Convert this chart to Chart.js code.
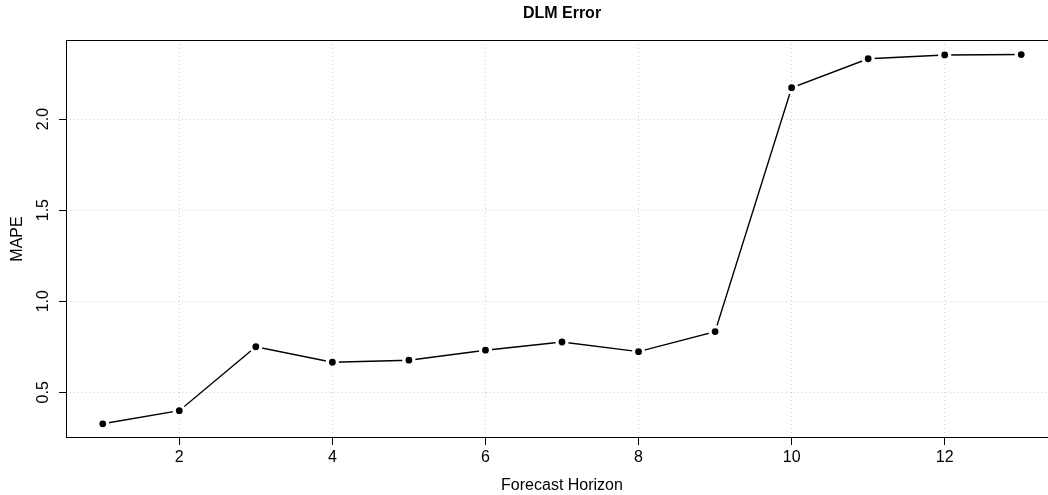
<!DOCTYPE html>
<html>
<head>
<meta charset="utf-8">
<script src="https://cdn.jsdelivr.net/npm/chart.js@4/dist/chart.umd.min.js"></script>
<style>
  html, body { margin: 0; padding: 0; background: #ffffff; overflow: hidden; width: 1048px; height: 495px; }
  canvas { display: block; }
</style>
</head>
<body>
<canvas id="c" width="1100" height="495"></canvas>
<script>
// ---- data ----
const horizon = [1, 2, 3, 4, 5, 6, 7, 8, 9, 10, 11, 12, 13];
const mape = [0.327, 0.399, 0.750, 0.665, 0.676, 0.731, 0.776, 0.723, 0.833, 2.172, 2.331, 2.352, 2.354];
const xTickValues = [2, 4, 6, 8, 10, 12];
const yTickValues = [0.5, 1.0, 1.5, 2.0];
const yTickLabels = ['0.5', '1.0', '1.5', '2.0'];
const chartTitle = 'DLM Error';
const xTitle = 'Forecast Horizon';
const yTitle = 'MAPE';

const FONT = "'Liberation Sans', Arial, Helvetica, sans-serif";
Chart.defaults.font.family = FONT;
Chart.defaults.font.size = 16;
Chart.defaults.color = '#000000';

const points = horizon.map((h, i) => ({ x: h, y: mape[i] }));

const decor = {
  id: 'decor',
  afterDraw(chart) {
    const ctx = chart.ctx;
    const a = chart.chartArea;
    const ys = chart.scales.y;
    ctx.save();
    // box
    ctx.strokeStyle = '#000000';
    ctx.lineWidth = 1;
    ctx.setLineDash([]);
    ctx.strokeRect(Math.round(a.left) + 0.5, Math.round(a.top) + 0.5,
                   Math.round(a.right - a.left), Math.round(a.bottom - a.top) - 1);
    // title
    ctx.fillStyle = '#000000';
    ctx.font = 'bold 16px ' + FONT;
    ctx.textAlign = 'center';
    ctx.textBaseline = 'middle';
    ctx.fillText(chartTitle, (a.left + a.right) / 2, 13.5);
    // y tick labels (rotated)
    ctx.font = '16px ' + FONT;
    yTickValues.forEach((v, i) => {
      const py = ys.getPixelForValue(v);
      ctx.save();
      ctx.translate(44, py);
      ctx.rotate(-Math.PI / 2);
      ctx.textAlign = 'center';
      ctx.textBaseline = 'middle';
      ctx.fillText(yTickLabels[i], 0, 0);
      ctx.restore();
    });
    ctx.restore();
  }
};

new Chart(document.getElementById('c'), {
  type: 'line',
  data: {
    datasets: [{
      data: points,
      borderColor: '#000000',
      borderWidth: 1.4,
      tension: 0,
      pointRadius: 5.0,
      pointHoverRadius: 5.0,
      pointBackgroundColor: '#000000',
      pointBorderColor: '#ffffff',
      pointBorderWidth: 3.2
    }]
  },
  options: {
    responsive: false,
    animation: false,
    events: [],
    layout: { padding: { left: 0, top: 40, right: 42, bottom: 0 } },
    plugins: {
      legend: { display: false },
      tooltip: { enabled: false },
      title: { display: false }
    },
    scales: {
      x: {
        type: 'linear',
        min: 0.52,
        max: 13.48,
        afterBuildTicks: s => { s.ticks = xTickValues.map(v => ({ value: v })); },
        afterFit: s => { s.height = 57; },
        ticks: {
          padding: 3,
          autoSkip: false,
          maxRotation: 0,
          minRotation: 0,
          callback: v => String(v),
          font: { size: 16 }
        },
        grid: {
          color: '#d3d3d3',
          lineWidth: 1,
          drawTicks: true,
          tickLength: 7,
          tickColor: '#000000',
          tickWidth: 1,
          tickBorderDash: []
        },
        border: { display: false, dash: [1, 3] },
        title: {
          display: true,
          text: xTitle,
          font: { size: 16 },
          padding: { top: 0, bottom: 0 }
        }
      },
      y: {
        type: 'linear',
        min: 0.249,
        max: 2.434,
        afterBuildTicks: s => { s.ticks = yTickValues.map(v => ({ value: v })); },
        afterFit: s => { s.width = 66; },
        ticks: { display: false },
        grid: {
          color: '#d3d3d3',
          lineWidth: 1,
          drawTicks: true,
          tickLength: 7,
          tickColor: '#000000',
          tickWidth: 1,
          tickBorderDash: []
        },
        border: { display: false, dash: [1, 3] },
        title: {
          display: true,
          text: yTitle,
          font: { size: 16 },
          padding: { top: 8, bottom: 0 }
        }
      }
    }
  },
  plugins: [decor]
});
</script>
</body>
</html>
